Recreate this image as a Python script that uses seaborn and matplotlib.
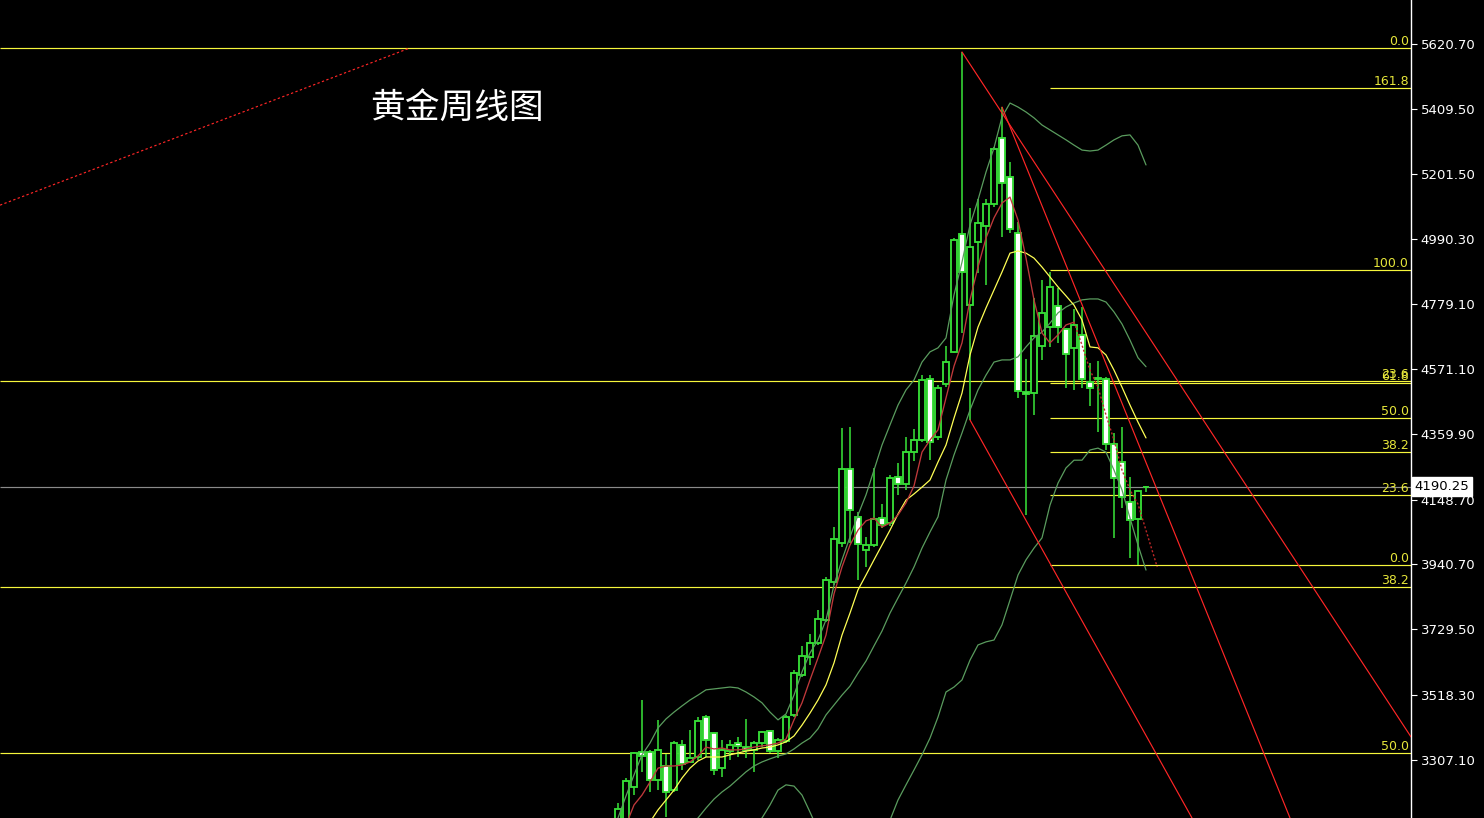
import matplotlib
matplotlib.use("Agg")
import matplotlib.pyplot as plt
import numpy as np
import seaborn as sns

# ---------------- data (weekly gold candles) ----------------
opens = [3050, 3100, 3220, 3333, 3333, 3243, 3288, 3210, 3356, 3301,
         3317, 3446, 3395, 3282, 3336, 3362, 3349, 3340, 3362, 3401,
         3336, 3369, 3453, 3582, 3640, 3685, 3760, 3883, 4009, 4248,
         4093, 3986, 4002, 4089, 4073, 4222, 4199, 4303, 4341, 4538,
         4351, 4522, 4626, 5007, 4777, 4981, 5033, 5104, 5317, 5191,
         5010, 4496, 4493, 4645, 4706, 4774, 4700, 4639, 4681, 4529,
         4542, 4538, 4328, 4270, 4141, 4086, 4188]
highs = [3168, 3249, 3334, 3501, 3340, 3437, 3327, 3369, 3372, 3404,
         3446, 3453, 3397, 3372, 3372, 3382, 3440, 3369, 3401, 3404,
         3378, 3453, 3598, 3676, 3714, 3792, 3899, 4060, 4380, 4383,
         4109, 4028, 4251, 4135, 4228, 4267, 4351, 4377, 4551, 4551,
         4519, 4645, 4994, 5595, 5091, 5120, 5120, 5288, 5417, 5240,
         5046, 4603, 4800, 4858, 4884, 4832, 4703, 4765, 4771, 4590,
         4597, 4545, 4364, 4383, 4222, 4180, 4192]
lows = [3030, 3080, 3194, 3269, 3204, 3211, 3123, 3204, 3275, 3298,
        3307, 3317, 3259, 3252, 3307, 3317, 3314, 3269, 3349, 3330,
        3314, 3362, 3446, 3576, 3614, 3679, 3753, 3873, 3996, 4009,
        3889, 3931, 3996, 4057, 4063, 4164, 4180, 4273, 4335, 4277,
        4341, 4513, 4622, 4687, 4406, 4881, 4842, 5094, 4997, 5010,
        4477, 4099, 4422, 4600, 4642, 4655, 4509, 4503, 4509, 4451,
        4367, 4309, 4025, 4122, 3960, 3937, 4173]
closes = [3150, 3240, 3330, 3320, 3243, 3340, 3204, 3362, 3294, 3314,
          3433, 3372, 3275, 3340, 3356, 3353, 3340, 3362, 3398, 3336,
          3372, 3446, 3588, 3643, 3685, 3763, 3889, 4021, 4248, 4115,
          4005, 4002, 4086, 4067, 4219, 4199, 4303, 4341, 4535, 4335,
          4509, 4593, 4988, 4884, 4965, 5042, 5104, 5282, 5172, 5023,
          4500, 4490, 4677, 4752, 4836, 4706, 4619, 4713, 4538, 4509,
          4538, 4328, 4219, 4157, 4083, 4177, 4190.25]

ma_red = [3049, 3097, 3162, 3194, 3236, 3281, 3288, 3288, 3291, 3301,
          3320, 3349, 3343, 3346, 3340, 3340, 3343, 3349, 3353, 3356,
          3362, 3375, 3437, 3492, 3566, 3637, 3711, 3844, 3931, 4002,
          4050, 4080, 4089, 4060, 4073, 4099, 4138, 4193, 4302, 4341,
          4374, 4477, 4580, 4655, 4794, 4900, 4994, 5059, 5107, 5126,
          5052, 4929, 4794, 4687, 4655, 4681, 4713, 4722, 4648, 4567,
          4512, 4422, 4341, 4244, 4180, 4134]
ma_red_tail_x = [65, 67.4]
ma_red_tail_y = [4134, 3931]

ma_yellow = [2984, 3017, 3039, 3075, 3107, 3146, 3178, 3210, 3249, 3281,
             3304, 3317, 3317, 3317, 3324, 3330, 3336, 3340, 3346, 3349,
             3356, 3366, 3385, 3420, 3459, 3501, 3550, 3621, 3711, 3782,
             3857, 3905, 3954, 4002, 4050, 4102, 4147, 4167, 4189, 4212,
             4270, 4325, 4412, 4493, 4616, 4706, 4768, 4826, 4884, 4945,
             4952, 4945, 4929, 4900, 4868, 4836, 4807, 4777, 4729, 4642,
             4639, 4616, 4567, 4512, 4454, 4399, 4348]

bb_upper = [3120, 3191, 3259, 3324, 3362, 3411, 3440, 3462, 3482, 3501,
            3517, 3534, 3537, 3540, 3543, 3540, 3527, 3511, 3492, 3462,
            3437, 3456, 3517, 3592, 3653, 3695, 3760, 3873, 3954, 4028,
            4099, 4164, 4244, 4325, 4390, 4454, 4503, 4535, 4593, 4626,
            4639, 4671, 4810, 4916, 5036, 5117, 5207, 5285, 5385, 5430,
            5417, 5401, 5382, 5359, 5343, 5327, 5311, 5294, 5278, 5275,
            5278, 5294, 5311, 5324, 5327, 5294, 5230]
bb_mid = [2855, 2887, 2920, 2952, 2984, 3010, 3033, 3055, 3078, 3097,
          3120, 3152, 3181, 3204, 3223, 3246, 3269, 3288, 3301, 3311,
          3320, 3327, 3343, 3362, 3378, 3408, 3453, 3485, 3517, 3546,
          3588, 3627, 3676, 3724, 3782, 3831, 3879, 3931, 3992, 4044,
          4093, 4212, 4293, 4364, 4438, 4503, 4551, 4593, 4600, 4600,
          4610, 4642, 4671, 4690, 4719, 4752, 4771, 4784, 4794, 4797,
          4797, 4787, 4755, 4716, 4664, 4607, 4578]
bb_lower_a_start = 17
bb_lower_a = [3095, 3120, 3162, 3210, 3227, 3223, 3194, 3139, 3081]
bb_lower_b_start = 33
bb_lower_b = [3050, 3113, 3178, 3227, 3275, 3324, 3378, 3446, 3527, 3543,
              3566, 3630, 3679, 3689, 3695, 3744, 3824, 3905, 3954, 3992,
              4025, 4131, 4202, 4251, 4276, 4276, 4309, 4315, 4302, 4244,
              4180, 4089, 4002, 3921]

# hand-drawn trend lines (candle index, price)
trend_a_x, trend_a_y = [43, 99.125], [5595, 3382]
trend_b_x, trend_b_y = [48, 84], [5417, 3120]
trend_c_x, trend_c_y = [44, 71.75], [4406, 3120]
trend_dash_x, trend_dash_y = [-77.25, -26], [5100, 5608]

# fibonacci levels
fib_full_levels = [5608, 4532, 3866, 3330]
fib_full_labels = ["0.0", "23.6", "38.2", "50.0"]
fib_right_start = 54
fib_right_levels = [5479, 4890, 4525, 4412, 4302, 4163, 3937]
fib_right_labels = ["161.8", "100.0", "61.8", "50.0", "38.2", "23.6", "0.0"]

last_price = 4190.25
price_ticks = [5620.70, 5409.50, 5201.50, 4990.30, 4779.10, 4571.10,
               4359.90, 4148.70, 3940.70, 3729.50, 3518.30, 3307.10]
title = "黄金周线图"

# ---------------- style ----------------
sns.set_theme(style="dark", rc={"axes.facecolor": "black", "figure.facecolor": "black",
                                "axes.grid": False})
plt.rcParams['font.family'] = ['DejaVu Sans', 'Noto Sans CJK SC']

GREEN = '#36dc36'
RED_MA = '#c0393b'
RED_LINE = '#ff2626'
YELLOW = '#f6f63c'
BB = '#5a9c5e'

fig = plt.figure(figsize=(14.84, 8.18), dpi=100)
ax = fig.add_axes([0, 0, 1411 / 1484, 1])
ax.set_facecolor('black')
XMIN, XMAX = -77.25, 99.125
ax.set_xlim(XMIN, XMAX)
ax.set_ylim(3119.9, 5762.9)

# reference lines
for lv in fib_full_levels:
    ax.hlines(lv, XMIN, XMAX, color=YELLOW, lw=0.85, zorder=1.5)
for lv in fib_right_levels:
    ax.hlines(lv, fib_right_start, XMAX, color=YELLOW, lw=0.85, zorder=1.5)
ax.hlines(last_price, XMIN, XMAX, color='#8a8a8a', lw=0.85, zorder=1.4)

ytr = ax.get_yaxis_transform()
for lv, lab in zip(fib_full_levels, fib_full_labels):
    ax.text(0.9985, lv, lab, transform=ytr, ha='right', va='bottom',
            color='#e6e63a', fontsize=9)
for lv, lab in zip(fib_right_levels, fib_right_labels):
    ax.text(0.9985, lv, lab, transform=ytr, ha='right', va='bottom',
            color='#e6e63a', fontsize=9)

# candles
o = np.array(opens, float); c = np.array(closes, float)
h = np.array(highs, float); l = np.array(lows, float)
idx = np.arange(len(o))
up = c >= o
ax.vlines(idx, l, h, color=GREEN, lw=1.15, zorder=2)
bottoms = np.minimum(o, c)
heights = np.maximum(np.abs(c - o), 2.0)
ax.bar(idx, heights, bottom=bottoms, width=0.74,
       color=np.where(up, 'black', 'white'), edgecolor=GREEN, linewidth=1.35, zorder=2.5)

# indicator lines
kw = dict(ax=ax, estimator=None, sort=False, legend=False)
sns.lineplot(x=np.arange(len(bb_upper)), y=bb_upper, color=BB, lw=0.9, zorder=3, **kw)
sns.lineplot(x=np.arange(len(bb_mid)), y=bb_mid, color=BB, lw=0.9, zorder=3, **kw)
sns.lineplot(x=np.arange(len(bb_lower_a)) + bb_lower_a_start, y=bb_lower_a, color=BB, lw=0.9, zorder=3, **kw)
sns.lineplot(x=np.arange(len(bb_lower_b)) + bb_lower_b_start, y=bb_lower_b, color=BB, lw=0.9, zorder=3, **kw)
sns.lineplot(x=np.arange(len(ma_yellow)), y=ma_yellow, color='#ffff55', lw=0.9, zorder=3.1, **kw)
solid_n = 58
sns.lineplot(x=np.arange(solid_n), y=ma_red[:solid_n], color=RED_MA, lw=0.95, zorder=3.2, **kw)
ax.plot(list(np.arange(solid_n - 1, len(ma_red))) + ma_red_tail_x[1:],
        ma_red[solid_n - 1:] + ma_red_tail_y[1:],
        color='#c02828', lw=1.0, ls=(0, (1.5, 1.5)), zorder=3.2)

# trend lines
for tx, ty in [(trend_a_x, trend_a_y), (trend_b_x, trend_b_y), (trend_c_x, trend_c_y)]:
    ax.plot(tx, ty, color=RED_LINE, lw=0.85, zorder=3.3)
ax.plot(trend_dash_x, trend_dash_y, color=RED_LINE, lw=0.85, ls=(0, (2, 2)), zorder=3.3)

# axes decoration
for s in ['left', 'top', 'bottom']:
    ax.spines[s].set_visible(False)
ax.spines['right'].set_visible(True)
ax.spines['right'].set_color('white')
ax.spines['right'].set_linewidth(1.0)
ax.set_xticks([])
ax.yaxis.tick_right()
ax.set_yticks(price_ticks)
ax.set_yticklabels([f"{v:.2f}" for v in price_ticks])
ax.tick_params(axis='y', colors='white', labelcolor='white', length=4, width=0.8,
               labelsize=9.5, pad=3, direction='out')
ax.grid(False)

ax.text(1.0025, last_price, f"{last_price:.2f}", transform=ytr, ha='left', va='center',
        color='black', fontsize=9.5, zorder=10, clip_on=False,
        bbox=dict(boxstyle='square,pad=0.22', fc='white', ec='white'))

ax.text(370 / 1411, 1 - 108 / 818, title, transform=ax.transAxes, ha='left', va='center',
        color='white', fontsize=25, family=['Noto Sans CJK SC', 'DejaVu Sans'])

fig.savefig("out.png", dpi=100, facecolor='black')
